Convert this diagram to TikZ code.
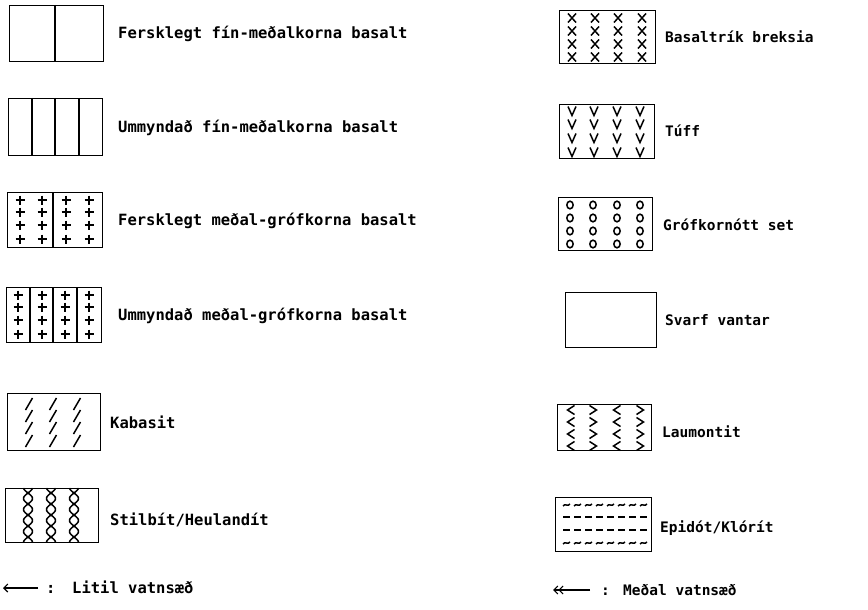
\documentclass[tikz,border=0pt]{standalone}
\usepackage{fontspec}
\setmonofont{DejaVu Sans Mono}
\usetikzlibrary{arrows.meta}
\tikzset{
  legbox/.style={draw, line width=1.4pt, inner sep=0pt, anchor=north west},
  lblL/.style={anchor=base west, inner sep=0pt, font=\ttfamily\bfseries\fontsize{15.5}{18}\selectfont},
  lblR/.style={anchor=base west, inner sep=0pt, font=\ttfamily\bfseries\fontsize{14.5}{17}\selectfont},
  pat/.style={line width=1.5pt},
  divl/.style={line width=1.4pt},
  arr/.style={line width=1.1pt},
}
\begin{document}
\begin{tikzpicture}[x=1pt,y=-1pt]
\useasboundingbox (0,0) rectangle (868,610);
% ---------- left column boxes ----------
\node[legbox, minimum width=94pt, minimum height=56pt] (L1) at (9,5) {};
\draw[divl] (55,5) -- (55,61);
\node[lblL] (tL1) at (118,39) {Fersklegt fín-meðalkorna basalt};

\node[legbox, minimum width=94pt, minimum height=57pt] (L2) at (8,98) {};
\foreach \x in {32,55,79} \draw[divl] (\x,98) -- (\x,155);
\node[lblL] (tL2) at (118,132) {Ummyndað fín-meðalkorna basalt};

\node[legbox, minimum width=95pt, minimum height=55pt] (L3) at (7,192) {};
\draw[divl] (53,192) -- (53,247);
\foreach \x in {20,42,66,89} \foreach \y in {200,212,225,239}
  \draw[pat] (\x-4.5,\y) -- (\x+4.5,\y) (\x,\y-4.5) -- (\x,\y+4.5);
\node[lblL] (tL3) at (118,225) {Fersklegt meðal-grófkorna basalt};

\node[legbox, minimum width=95pt, minimum height=55pt] (L4) at (6,287) {};
\foreach \x in {30,53,77} \draw[divl] (\x,287) -- (\x,342);
\foreach \x in {18,42,65,89} \foreach \y in {295,307,320,334}
  \draw[pat] (\x-4.5,\y) -- (\x+4.5,\y) (\x,\y-4.5) -- (\x,\y+4.5);
\node[lblL] (tL4) at (118,320) {Ummyndað meðal-grófkorna basalt};

\node[legbox, minimum width=93pt, minimum height=57pt] (L5) at (7,393) {};
\foreach \x in {29,53,77} \foreach \y in {404,416,428,441}
  \draw[pat] (\x-3.5,\y+6) -- (\x+3.5,\y-6);
\node[lblL] (tL5) at (110,428) {Kabasit};

\node[legbox, minimum width=93pt, minimum height=54pt] (L6) at (5,488) {};
\foreach \cx in {28,51,74} {
  \draw[pat] plot[variable=\t, domain=488:542, samples=80, smooth] ({\cx+4.5*sin((\t-493)*180/11)}, {\t});
  \draw[pat] plot[variable=\t, domain=488:542, samples=80, smooth] ({\cx-4.5*sin((\t-493)*180/11)}, {\t});
}
\node[lblL] (tL6) at (110,525) {Stilbít/Heulandít};

% bottom left arrow
\coordinate (a1s) at (38,588);
\coordinate (a1e) at (3,588);
\draw[arr, -{Straight Barb[length=4pt,width=8pt]}] (a1s) -- (a1e);
\node[lblL] (c1) at (46,593) {:};
\node[lblL] (tA1) at (72,593) {Litil vatnsæð};

% ---------- right column boxes ----------
\node[legbox, minimum width=96pt, minimum height=53pt] (R1) at (559,10) {};
\foreach \x in {572,595,618,642} \foreach \y in {18,31,44,57}
  \draw[pat] (\x-4,\y-4.5) -- (\x+4,\y+4.5) (\x-4,\y+4.5) -- (\x+4,\y-4.5);
\node[lblR] (tR1) at (665,43) {Basaltrík breksia};

\node[legbox, minimum width=95pt, minimum height=54pt] (R2) at (559,104) {};
\foreach \x in {572,594,617,640} \foreach \y in {111,124,138,152}
  \draw[pat] (\x-4,\y-4.5) -- (\x,\y+4.5) -- (\x+4,\y-4.5);
\node[lblR] (tR2) at (665,136) {Túff};

\node[legbox, minimum width=94pt, minimum height=53pt] (R3) at (558,197) {};
\foreach \x in {570,593,617,640} \foreach \y in {205,218,231,244}
  \draw[pat] (\x,\y) ellipse[x radius=3.2, y radius=3.8];
\node[lblR] (tR3) at (663,230) {Grófkornótt set};

\node[legbox, minimum width=91pt, minimum height=55pt] (R4) at (565,292) {};
\node[lblR] (tR4) at (665,325) {Svarf vantar};

\node[legbox, minimum width=94pt, minimum height=46pt] (R5) at (557,404) {};
\foreach \x in {571,617} \foreach \y in {410,422,434,446}
  \draw[pat] (\x+3.5,\y-4.5) -- (\x-3.5,\y) -- (\x+3.5,\y+4.5);
\foreach \x in {593,640} \foreach \y in {410,422,434,446}
  \draw[pat] (\x-3.5,\y-4.5) -- (\x+3.5,\y) -- (\x-3.5,\y+4.5);
\node[lblR] (tR5) at (662,437) {Laumontit};

\node[legbox, minimum width=96pt, minimum height=54pt] (R6) at (555,497) {};
\foreach \x in {563,574,585,596,607,618,629,640} \foreach \y in {505,543}
  \draw[pat] (\x,\y+1) .. controls (\x+2,\y-2) and (\x+5,\y+2) .. (\x+7,\y-1);
\foreach \y in {517,530}
  \draw[pat, dash pattern=on 7pt off 4pt] (563,\y) -- (648,\y);
\node[lblR] (tR6) at (660,532) {Epidót/Klórít};

% bottom right arrow
\coordinate (a2s) at (590,590);
\coordinate (a2e) at (553,590);
\draw[arr, -{Straight Barb[length=4pt,width=8pt]Straight Barb[length=4pt,width=8pt]}] (a2s) -- (a2e);
\node[lblR] (c2) at (601,595) {:};
\node[lblR] (tA2) at (623,595) {Meðal vatnsæð};
\end{tikzpicture}
\end{document}
